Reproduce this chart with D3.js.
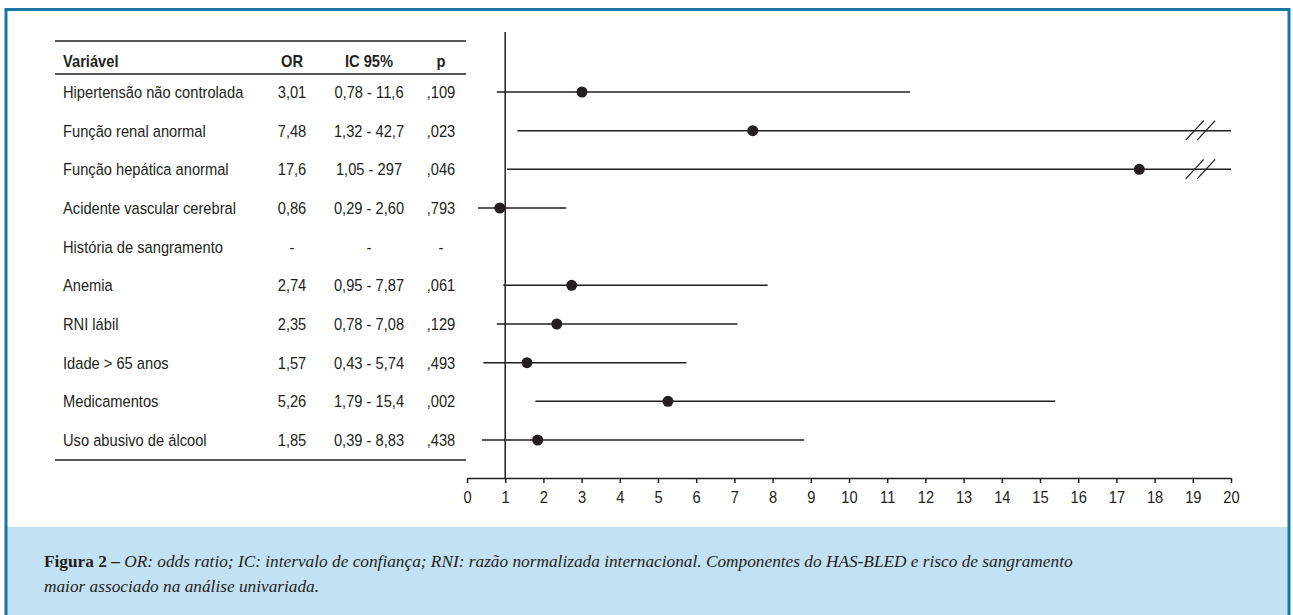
<!DOCTYPE html>
<html><head><meta charset="utf-8">
<script src="https://cdn.jsdelivr.net/npm/d3@7"></script>
<style>
html,body{margin:0;padding:0;background:#fff;}
svg{display:block;}
</style></head>
<body>
<svg id="chart" width="1293" height="615"></svg>
<script>
const variables = ["Hipertensão não controlada","Função renal anormal","Função hepática anormal","Acidente vascular cerebral","História de sangramento","Anemia","RNI lábil","Idade > 65 anos","Medicamentos","Uso abusivo de álcool"];
const orValues = [3.01, 7.48, 17.6, 0.86, null, 2.74, 2.35, 1.57, 5.26, 1.85];
const ciLower = [0.78, 1.32, 1.05, 0.29, null, 0.95, 0.78, 0.43, 1.79, 0.39];
const ciUpper = [11.6, 42.7, 297, 2.60, null, 7.87, 7.08, 5.74, 15.4, 8.83];
const orLabels = ["3,01","7,48","17,6","0,86","-","2,74","2,35","1,57","5,26","1,85"];
const ciLabels = ["0,78 - 11,6","1,32 - 42,7","1,05 - 297","0,29 - 2,60","-","0,95 - 7,87","0,78 - 7,08","0,43 - 5,74","1,79 - 15,4","0,39 - 8,83"];
const pLabels = [",109",",023",",046",",793","-",",061",",129",",493",",002",",438"];
const headers = ["Variável","OR","IC 95%","p"];
const xTicks = d3.range(0, 21);
const captionBold = "Figura 2 –";
const captionLine1 = " OR: odds ratio; IC: intervalo de confiança; RNI: razão normalizada internacional. Componentes do HAS-BLED e risco de sangramento";
const captionLine2 = "maior associado na análise univariada.";

const svg = d3.select("#chart");
const ink = "#231f20";
const sans = "'Liberation Sans',Arial,sans-serif";
const fs = 16.5, sx = 0.89;

// frame
svg.append("rect").attr("x",7).attr("y",527).attr("width",1281).attr("height",88).attr("fill","#c2e1f2");
svg.append("path").attr("d","M6,615 V9.5 H1289 V615").attr("fill","none").attr("stroke","#1677a4").attr("stroke-width",3);

const x = d3.scaleLinear().domain([0,20]).range([467,1231]);
const xMax = 20;
const y = d3.scalePoint().domain(d3.range(variables.length)).range([92,440]);

// table
const tl = 55, tr = 466;
[41,74,460].forEach(yy => svg.append("line").attr("x1",tl).attr("x2",tr).attr("y1",yy).attr("y2",yy).attr("stroke",ink).attr("stroke-width",1.5));
const colX = [63,292,369,441];
const colAnchor = ["start","middle","middle","middle"];
headers.forEach((h,i)=>svg.append("text").attr("transform",`translate(${colX[i]},67) scale(${sx},1)`).attr("text-anchor",colAnchor[i])
  .attr("font-family",sans).attr("font-size",fs).attr("font-weight","bold").attr("fill",ink).text(h));
const rows = svg.append("g").selectAll("g").data(variables).join("g").attr("transform",(d,i)=>`translate(0,${y(i)})`);
[variables, orLabels, ciLabels, pLabels].forEach((arr,c)=>{
  rows.append("text").attr("transform",`translate(${colX[c]},6) scale(${sx},1)`).attr("text-anchor",colAnchor[c])
   .attr("font-family",sans).attr("font-size",fs).attr("fill",ink).text((d,i)=>arr[i]);
});

// reference line at OR=1
svg.append("line").attr("x1",x(1)).attr("x2",x(1)).attr("y1",32).attr("y2",478).attr("stroke",ink).attr("stroke-width",1.5);

// axis
const axis = d3.axisBottom(x).tickValues(xTicks).tickSize(5).tickSizeOuter(0).tickFormat(d3.format("d"));
const ag = svg.append("g").attr("transform","translate(0,478)").call(axis);
ag.select(".domain").attr("stroke",ink).attr("stroke-width",1.5);
ag.selectAll(".tick line").attr("stroke",ink).attr("stroke-width",1.5);
ag.selectAll(".tick text").attr("font-family",sans).attr("font-size",fs).attr("fill",ink)
  .attr("y",0).attr("dy",0).attr("transform",`translate(0,25) scale(${sx},1)`);

// intervals
const idx = d3.range(variables.length).filter(i=>orValues[i]!=null);
const g = svg.append("g");
g.selectAll("line.ci").data(idx).join("line").attr("class","ci")
  .attr("x1",i=>x(ciLower[i])).attr("x2",i=>x(Math.min(ciUpper[i],xMax)))
  .attr("y1",i=>y(i)).attr("y2",i=>y(i)).attr("stroke",ink).attr("stroke-width",1.5);
// break marks for truncated intervals
const trunc = idx.filter(i=>ciUpper[i]>xMax);
[19.05,19.35].forEach(v=>{
  g.selectAll(null).data(trunc).join("line")
   .attr("x1",i=>x(v)-9).attr("x2",i=>x(v)+9).attr("y1",i=>y(i)+9.5).attr("y2",i=>y(i)-10)
   .attr("stroke",ink).attr("stroke-width",1.3);
});
g.selectAll("circle").data(idx).join("circle").attr("cx",i=>x(orValues[i])).attr("cy",i=>y(i)).attr("r",5.5).attr("fill",ink);

// caption
const serif = "'Palatino Linotype','Book Antiqua',Palatino,'Liberation Serif','DejaVu Serif',serif";
const cap = svg.append("text").attr("x",44).attr("y",567).attr("font-family",serif).attr("font-size",17.3).attr("fill",ink);
cap.append("tspan").attr("font-weight","bold").text(captionBold);
cap.append("tspan").attr("font-style","italic").text(captionLine1);
svg.append("text").attr("x",44).attr("y",592).attr("font-family",serif).attr("font-size",17.3).attr("font-style","italic").attr("fill",ink).text(captionLine2);
</script>
</body></html>
